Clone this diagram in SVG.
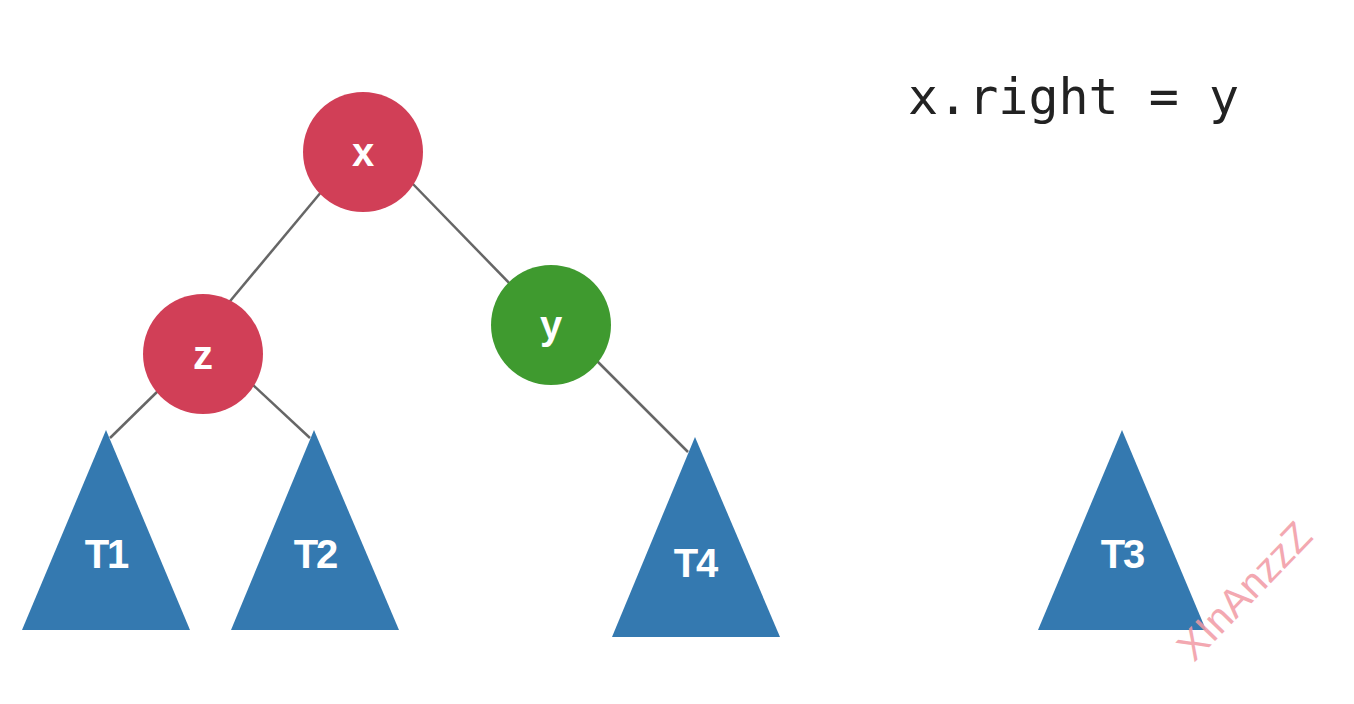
<svg xmlns="http://www.w3.org/2000/svg" width="1354" height="704" viewBox="0 0 1354 704">
<style>
.edge{stroke:#666;stroke-width:2.5;fill:none}
.red{fill:#D13F57}
.green{fill:#3F9A2F}
.tri{fill:#3479B0}
.lbl{font-family:"Liberation Sans",Arial,sans-serif;font-weight:bold;fill:#fff;text-anchor:middle;font-size:40px}
.tl{letter-spacing:-2px}
.code{font-family:"DejaVu Sans Mono",monospace;font-size:50px;fill:#222}
.wm{font-family:"Liberation Sans",Arial,sans-serif;font-size:40px;fill:#F29AA4;opacity:0.85}
</style>
<rect width="1354" height="704" fill="#fff"/>
<g id="connectors">
<line class="edge" x1="322" y1="191" x2="226" y2="306"/>
<line class="edge" x1="410" y1="181" x2="513" y2="287"/>
<line class="edge" x1="160" y1="389" x2="110" y2="438"/>
<line class="edge" x1="252" y1="384" x2="310" y2="438"/>
<line class="edge" x1="594" y1="358" x2="688" y2="452"/>
</g>
<g id="node-x"><circle class="red" cx="363" cy="152" r="60"/><text class="lbl" x="363" y="166">x</text></g>
<g id="node-z"><circle class="red" cx="203" cy="354" r="60"/><text class="lbl" x="203" y="369">z</text></g>
<g id="node-y"><circle class="green" cx="551" cy="325" r="60"/><text class="lbl" x="551" y="339">y</text></g>
<g id="node-T1"><polygon class="tri" points="106,430 190,630 22,630"/><text class="lbl tl" x="106" y="568">T1</text></g>
<g id="node-T2"><polygon class="tri" points="314,430 399,630 231,630"/><text class="lbl tl" x="315" y="568">T2</text></g>
<g id="node-T4"><polygon class="tri" points="695,437 780,637 612,637"/><text class="lbl tl" x="695" y="577">T4</text></g>
<g id="node-T3"><polygon class="tri" points="1122,430 1206,630 1038,630"/><text class="lbl tl" x="1122" y="568">T3</text></g>
<text class="code" x="908" y="114">x.right = y</text>
<text class="wm" transform="translate(1194,663) rotate(-46)">XInAnzzZ</text>
</svg>
